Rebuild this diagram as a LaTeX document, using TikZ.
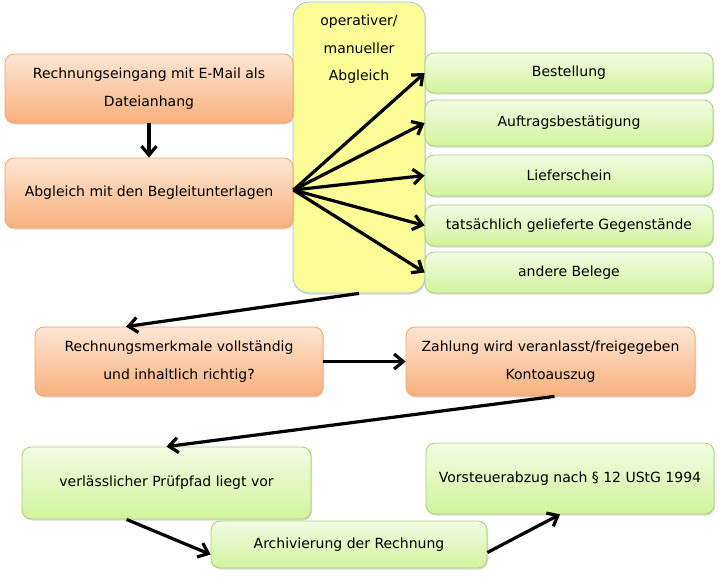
\documentclass[tikz,border=0pt]{standalone}
\usepackage{fontspec}
\setmainfont{DejaVu Sans}
\usetikzlibrary{arrows.meta,shadows}
\definecolor{orTop}{HTML}{FDE6D4}
\definecolor{orBot}{HTML}{F8B07C}
\definecolor{orLine}{HTML}{F2A46E}
\definecolor{grTop}{HTML}{F2FCE4}
\definecolor{grBot}{HTML}{D1F49C}
\definecolor{grLine}{HTML}{A9CF76}
\definecolor{yeFill}{HTML}{FDFD98}
\definecolor{yeLine}{HTML}{9CC4E4}
\tikzset{
  boxbase/.style={rectangle, rounded corners=9pt, inner sep=0pt, align=center,
    line width=0.8pt, font=\fontsize{14}{27.5}\selectfont,
    drop shadow={shadow xshift=1pt, shadow yshift=-1.5pt, fill=black!30, opacity=0.45}},
  obox/.style={boxbase, draw=orLine, top color=orTop, bottom color=orBot},
  gbox/.style={boxbase, draw=grLine, top color=grTop, bottom color=grBot},
  ybox/.style={rectangle, rounded corners=16pt, inner sep=0pt, draw=yeLine,
    fill=yeFill, line width=0.8pt,
    drop shadow={shadow xshift=1pt, shadow yshift=-1.5pt, fill=black!30, opacity=0.45}},
  ylabel/.style={font=\fontsize{14}{27.5}\selectfont, align=center, anchor=north, inner sep=0pt},
  flow/.style={line width=3.2pt, -{Straight Barb[length=9pt,width=15pt,line width=3.2pt]}}
}
\begin{document}
\begin{tikzpicture}[x=1pt,y=-1pt]
\useasboundingbox (0,0) rectangle (720,578);
% yellow column
\node[ybox, minimum width=132pt, minimum height=291pt] (yel) at (359,147.5) {};
\node[ylabel] (ytxt) at (359,15) {operativer/\\manueller\\Abgleich};
% left boxes
\node[obox, minimum width=288pt, minimum height=69pt] (b1) at (149,88.5) {Rechnungseingang mit E-Mail als\\Dateianhang};
\node[obox, minimum width=288pt, minimum height=70pt] (b2) at (149,193) {Abgleich mit den Begleitunterlagen};
% green list
\node[gbox, minimum width=288pt, minimum height=40pt] (g1) at (569,73) {Bestellung};
\node[gbox, minimum width=288pt, minimum height=46pt] (g2) at (569,123) {Auftragsbestätigung};
\node[gbox, minimum width=288pt, minimum height=41pt] (g3) at (569,175.5) {Lieferschein};
\node[gbox, minimum width=288pt, minimum height=41pt] (g4) at (569,225.5) {tatsächlich gelieferte Gegenstände};
\node[gbox, minimum width=288pt, minimum height=41pt] (g5) at (569,272.5) {andere Belege};
% middle row
\node[obox, minimum width=288pt, minimum height=69pt] (b3) at (179,361.5) {Rechnungsmerkmale vollständig\\und inhaltlich richtig?};
\node[obox, minimum width=289pt, minimum height=69pt] (b4) at (550.5,361.5) {Zahlung wird veranlasst/freigegeben\\Kontoauszug};
% bottom
\node[gbox, minimum width=289pt, minimum height=72pt] (b5) at (166.5,483) {verlässlicher Prüfpfad liegt vor};
\node[gbox, minimum width=288pt, minimum height=71pt] (b6) at (570,478.5) {Vorsteuerabzug nach § 12 UStG 1994};
\node[gbox, minimum width=276pt, minimum height=47pt] (b7) at (349,544.5) {Archivierung der Rechnung};
% connectors
\draw[flow] (b1.south) -- (b2.north);
\draw[flow] ([yshift=3pt]b2.east) -- (g1.west);
\draw[flow] ([yshift=3pt]b2.east) -- (g2.west);
\draw[flow] ([yshift=3pt]b2.east) -- (g3.west);
\draw[flow] ([yshift=3pt]b2.east) -- (g4.west);
\draw[flow] ([yshift=3pt]b2.east) -- (g5.west);
\draw[flow] (yel.south) -- ([xshift=-53pt]b3.north);
\draw[flow] (b3.east) -- (b4.west);
\draw[flow] ([xshift=4pt]b4.south) -- (b5.north);
\draw[flow] ([xshift=-40pt]b5.south) -- ([yshift=-10pt]b7.west);
\draw[flow] ([yshift=-8pt]b7.east) -- ([xshift=-10pt]b6.south);
\end{tikzpicture}
\end{document}
